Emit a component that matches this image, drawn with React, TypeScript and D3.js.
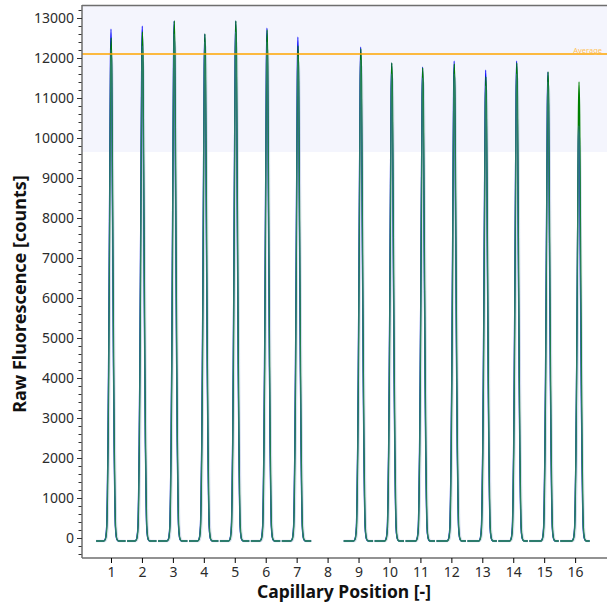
import React, { useEffect, useRef } from "react";
import * as d3 from "d3";

// capillary numbers that hold a scan (8 is empty)
const capillaries = [1, 2, 3, 4, 5, 6, 7, 9, 10, 11, 12, 13, 14, 15, 16];
// read peak centres (the scans drift a little to the right)
const peakCenters = [1.0, 2.01, 3.04, 4.03, 5.03, 6.04, 7.04, 9.07, 10.07, 11.07, 12.09, 13.11, 14.11, 15.12, 16.12];
// peak maxima per trace [counts]
const blueHeights = [12725, 12800, 12925, 12600, 12925, 12750, 12525, 12275, 11875, 11775, 11925, 11700, 11925, 11650, 10550];
const greenHeights = [12500, 12650, 12925, 12600, 12925, 12700, 12300, 12225, 11875, 11750, 11850, 11525, 11875, 11650, 11400];
const steelHeights = [12200, 12300, 12600, 12400, 12650, 12400, 12050, 11950, 11600, 11500, 11600, 11300, 11600, 11400, 10300];
const hazeHeights = [12000, 11900, 12400, 12300, 12400, 12200, 11900, 11800, 11500, 11400, 11500, 11200, 11500, 11300, 10000];

// peak profile: offset from centre [capillary units] -> share of peak height
const profileOffsets = [-0.55, -0.24, -0.2, -0.17, -0.14, -0.12, -0.1, -0.08, -0.06, -0.04, -0.02, 0, 0.02, 0.04, 0.06, 0.08, 0.1, 0.12, 0.14, 0.17, 0.2, 0.24, 0.55];
const profileShares = [0, 0, 0.002, 0.008, 0.03, 0.09, 0.19, 0.34, 0.53, 0.74, 0.93, 1, 0.93, 0.74, 0.53, 0.34, 0.19, 0.09, 0.03, 0.008, 0.002, 0, 0];

const baseline = -75;
const averageValue = 12100;
const bandLow = 9650;

const yMajorTicks = d3.range(0, 13001, 1000);
const yMinorTicks = d3.range(-400, 13201, 200);
const xTicks = d3.range(1, 17);

const FONT = "'Noto Sans', 'Open Sans', sans-serif";

function App() {
    const ref = useRef<SVGSVGElement>(null);

    useEffect(() => {
        const svg = d3.select(ref.current);
        svg.selectAll("*").remove();

        const width = 607;
        const height = 607;
        const margin = { top: 5, right: 0, bottom: 49, left: 82 };

        const x = d3.scaleLinear().domain([0.063, 17.03]).range([margin.left, width - margin.right]);
        const y = d3.scaleLinear().domain([-500, 13325]).range([height - margin.bottom, margin.top]);

        // shaded band above the lower limit
        svg.append("rect")
            .attr("x", margin.left)
            .attr("y", margin.top)
            .attr("width", width - margin.right - margin.left)
            .attr("height", y(bandLow) - margin.top)
            .attr("fill", "#f4f5fd");

        // top frame line
        svg.append("line")
            .attr("x1", margin.left)
            .attr("x2", width)
            .attr("y1", margin.top + 0.5)
            .attr("y2", margin.top + 0.5)
            .attr("stroke", "#6e6e6e")
            .attr("stroke-width", 1.5);

        const buildTrace = (i: number, heights: number[], shift: number) => {
            const cap = capillaries[i];
            const lo = cap - 0.48;
            const hi = cap + 0.47;
            const c = peakCenters[i] + shift;
            const pts: [number, number][] = [[lo, baseline]];
            profileOffsets.forEach((o, k) => {
                const px = c + o;
                if (px > lo && px < hi) pts.push([px, baseline + (heights[i] - baseline) * profileShares[k]]);
            });
            pts.push([hi, baseline]);
            return pts;
        };

        const line = d3.line<[number, number]>()
            .x((d) => x(d[0]))
            .y((d) => y(d[1]))
            .curve(d3.curveMonotoneX);

        const traces = [
            { heights: hazeHeights, shift: 0.025, color: "#b9c4e4", width: 2.5, opacity: 0.6 },
            { heights: blueHeights, shift: 0, color: "#0000ff", width: 1.2, opacity: 1 },
            { heights: greenHeights, shift: 0.006, color: "#008000", width: 1.3, opacity: 1 },
            { heights: steelHeights, shift: 0, color: "#4a80b4", width: 1.3, opacity: 0.55 },
        ];

        traces.forEach((t) => {
            svg.append("g")
                .selectAll("path")
                .data(capillaries.map((_, i) => buildTrace(i, t.heights, t.shift)))
                .enter()
                .append("path")
                .attr("d", line)
                .attr("fill", "none")
                .attr("stroke", t.color)
                .attr("stroke-width", t.width)
                .attr("stroke-opacity", t.opacity);
        });

        // average line
        svg.append("line")
            .attr("x1", margin.left)
            .attr("x2", width)
            .attr("y1", y(averageValue))
            .attr("y2", y(averageValue))
            .attr("stroke", "#ffa500")
            .attr("stroke-width", 1.5);

        svg.append("text")
            .attr("x", 602)
            .attr("y", y(averageValue) - 1.5)
            .attr("text-anchor", "end")
            .style("font-family", FONT)
            .style("font-size", "7.5px")
            .attr("fill", "#ffc35a")
            .text("Average");

        // y axis
        const yAxis = svg.append("g").attr("transform", `translate(${margin.left},0)`);
        yAxis.call(d3.axisLeft(y).tickValues(yMinorTicks).tickSize(3.5).tickFormat(() => ""));
        yAxis.call((g) => g.select(".domain").remove());
        const yMajor = svg.append("g").attr("transform", `translate(${margin.left},0)`);
        yMajor.call(d3.axisLeft(y).tickValues(yMajorTicks).tickSize(5).tickPadding(3).tickFormat(d3.format("d")));
        yMajor.select(".domain").attr("d", `M0,${margin.top}V${height - margin.bottom}`);
        svg.selectAll(".tick line").attr("stroke", "#333");

        // x axis
        const xAxis = svg.append("g").attr("transform", `translate(0,${height - margin.bottom})`);
        xAxis.call(d3.axisBottom(x).tickValues(xTicks).tickSize(5).tickPadding(4).tickFormat(d3.format("d")));
        xAxis.select(".domain").attr("d", `M${margin.left},0H${width}`);

        svg.selectAll(".domain").attr("stroke", "#6e6e6e").attr("stroke-width", 1.5);
        svg.selectAll(".tick text")
            .style("font-family", FONT)
            .style("font-size", "14px")
            .attr("fill", "#2b2b2b");

        svg.append("text")
            .attr("x", 344)
            .attr("y", 598)
            .attr("text-anchor", "middle")
            .style("font-family", FONT)
            .style("font-size", "17.5px")
            .style("font-weight", "bold")
            .attr("fill", "#111")
            .text("Capillary Position [-]");

        svg.append("text")
            .attr("transform", `translate(26,294) rotate(-90)`)
            .attr("text-anchor", "middle")
            .style("font-family", FONT)
            .style("font-size", "18px")
            .style("font-weight", "bold")
            .attr("fill", "#111")
            .text("Raw Fluorescence [counts]");
    }, []);

    return (
        <svg
            ref={ref}
            width={607}
            height={607}
            style={{ position: "absolute", left: 0, top: 0, background: "#fff" }}
        ></svg>
    );
}

export default App;
